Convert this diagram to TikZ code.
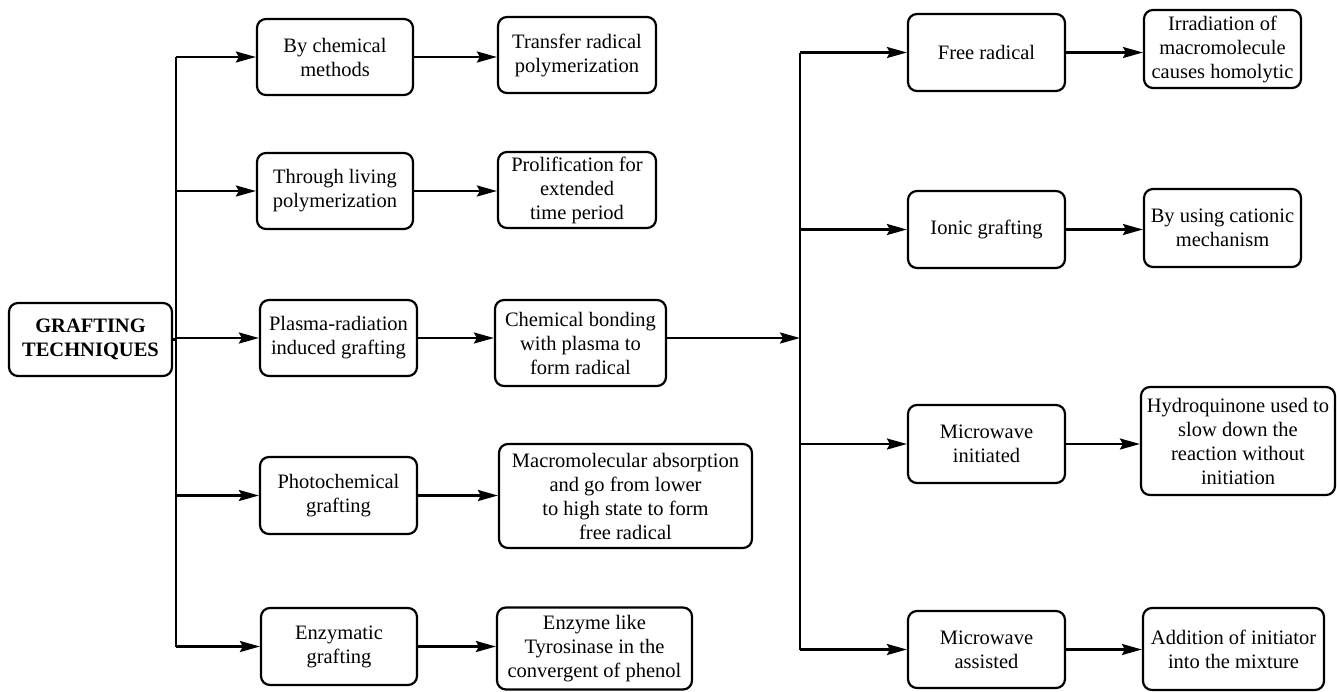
\documentclass[tikz,border=0pt]{standalone}
\usepackage{fontspec}
\setmainfont{Liberation Serif}
\usetikzlibrary{arrows.meta}
\begin{document}
\begin{tikzpicture}[x=1pt,y=-1pt,
  box/.style={draw,line width=2.2pt,rounded corners=9pt,align=center,inner sep=0pt,
    font=\fontsize{20.5}{24}\selectfont},
  conn/.style={line width=2.3pt},
  arr/.style={line width=2.3pt,-{Stealth[length=20pt,width=11pt,inset=3pt]}}]
\useasboundingbox (0,0) rectangle (1337,691);
% root
\node[box,minimum width=163pt,minimum height=73pt,font=\fontsize{20.5}{24}\selectfont\bfseries] (root) at (90.5,339.5) {GRAFTING\\TECHNIQUES};
% level 1 left
\node[box,minimum width=156pt,minimum height=76pt] (a1) at (335,57) {By chemical\\methods};
\node[box,minimum width=156pt,minimum height=76pt] (a2) at (335,191) {Through living\\polymerization};
\node[box,minimum width=157pt,minimum height=76pt] (a3) at (338.5,338) {Plasma-radiation\\induced grafting};
\node[box,minimum width=157pt,minimum height=77pt] (a4) at (338.5,495.5) {Photochemical\\grafting};
\node[box,minimum width=156pt,minimum height=77pt] (a5) at (339,646.5) {Enzymatic\\grafting};
% level 2 left
\node[box,minimum width=158pt,minimum height=76pt] (b1) at (577,55) {Transfer radical\\polymerization};
\node[box,minimum width=158pt,minimum height=76pt] (b2) at (577,190) {Prolification for\\extended\\time period};
\node[box,minimum width=171pt,minimum height=86pt] (b3) at (580.5,343) {Chemical bonding\\with plasma to\\form radical};
\node[box,minimum width=253pt,minimum height=104pt] (b4) at (625.5,496) {Macromolecular absorption\\and go from lower\\to high state to form\\free radical};
\node[box,minimum width=195pt,minimum height=82pt] (b5) at (594.5,648.5) {Enzyme like\\Tyrosinase in the\\convergent of phenol};
% level 1 right
\node[box,minimum width=157pt,minimum height=77pt] (c1) at (986.5,52.5) {Free radical};
\node[box,minimum width=157pt,minimum height=77pt] (c2) at (986.5,229.5) {Ionic grafting};
\node[box,minimum width=157pt,minimum height=78pt] (c3) at (986.5,444) {Microwave\\initiated};
\node[box,minimum width=157pt,minimum height=77pt] (c4) at (986.5,649.5) {Microwave\\assisted};
% level 2 right
\node[box,minimum width=157pt,minimum height=78pt] (d1) at (1222.5,49) {Irradiation of\\macromolecule\\causes homolytic};
\node[box,minimum width=157pt,minimum height=78pt] (d2) at (1222.5,228) {By using cationic\\mechanism};
\node[box,minimum width=194pt,minimum height=108pt] (d3) at (1238,441) {Hydroquinone used to\\slow down the\\reaction without\\initiation};
\node[box,minimum width=181pt,minimum height=82pt] (d4) at (1233.5,649) {Addition of initiator\\into the mixture};
% trunks
\coordinate (t1) at (176,0);
\coordinate (t2) at (800,0);
\draw[conn] (root.east) -- (t1 |- root.east);
\draw[conn] (t1 |- a1.west) -- (t1 |- a5.west);
\foreach \n in {a1,a2,a3,a4,a5} \draw[arr] (t1 |- \n.west) -- (\n.west);
\draw[arr] (a1.east) -- (a1.east -| b1.west);
\draw[arr] (a2.east) -- (a2.east -| b2.west);
\draw[arr] (a3.east) -- (a3.east -| b3.west);
\draw[arr] (a4.east) -- (a4.east -| b4.west);
\draw[arr] (a5.east) -- (a5.east -| b5.west);
\draw[arr] (a3.east -| b3.east) -- (t2 |- a3.east);
\draw[conn] (t2 |- c1.west) -- (t2 |- c4.west);
\foreach \n in {c1,c2,c3,c4} \draw[arr] (t2 |- \n.west) -- (\n.west);
\draw[arr] (c1.east) -- (c1.east -| d1.west);
\draw[arr] (c2.east) -- (c2.east -| d2.west);
\draw[arr] (c3.east) -- (c3.east -| d3.west);
\draw[arr] (c4.east) -- (c4.east -| d4.west);
\end{tikzpicture}
\end{document}
